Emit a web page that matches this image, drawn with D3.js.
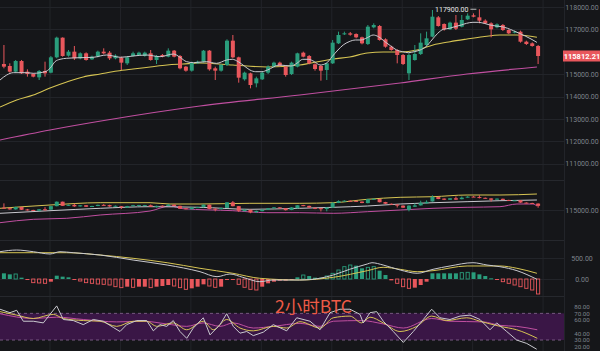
<!DOCTYPE html>
<html><head><meta charset="utf-8">
<script src="https://cdn.jsdelivr.net/npm/d3@7"></script>
<style>html,body{margin:0;padding:0;background:#151619;}svg{display:block}</style>
</head><body><svg id="c" width="600" height="351"></svg>
<script>
// ---------- DATA ----------
const open  = [115455,115366,115113,115589,115113,115009,114860,115143,115069,115753,116631,115828,116006,115708,115932,115664,115783,116006,115961,115708,115738,115485,115813,115857,115813,115932,115634,115857,115783,116051,115813,115336,115158,115485,115559,116051,115262,115158,115411,116497,115753,114771,115039,114592,114771,115069,115336,115515,115336,115009,115336,115961,115813,115440,115366,115188,115485,116378,116780,116824,116794,116646,116348,117092,117152,116557,116229,116080,115857,115039,115634,115902,116304,116676,117539,117241,117003,117301,117122,117449,117628,117539,117390,117271,117092,117196,116973,116854,116898,116452,116378,116259];
const high  = [116304,115485,115634,115634,115217,115039,115188,115559,115813,116676,116646,116080,116259,115976,115976,115828,116051,116155,116036,115887,115783,115813,116006,116006,116006,116080,115857,115902,116155,116080,115857,115366,115559,115604,116080,116080,115336,115455,116557,116750,115783,115113,115069,114890,115113,115396,115559,115559,115366,115559,115961,116006,115857,115485,115411,115515,116527,116899,116899,116884,116824,116676,117196,117271,117196,116601,116274,116110,115902,115932,116304,116824,116899,117866,117598,117271,117346,117643,117643,117717,117717,117900,117449,117316,117271,117241,117003,116944,116944,116497,116423,116304];
const low   = [115262,115069,115069,115009,114890,114860,114741,114890,115039,115708,115783,115783,115634,115664,115604,115634,115753,115887,115634,115664,115188,115411,115783,115813,115783,115604,115455,115753,115753,115753,115217,115113,115113,115455,115515,115158,114741,115113,115366,115708,114622,114711,114369,114414,114741,115009,115306,115336,114890,114964,115306,115753,115440,115158,114711,114741,115455,116348,116750,116720,116601,116333,116304,117049,116497,116184,116051,115485,115411,114741,115604,115857,116259,116646,117122,116944,116973,116973,117092,117420,117539,117271,117241,116646,117049,116929,116794,116824,116408,116304,116229,115455];
const close = [115336,115113,115589,115039,115009,114890,115143,115039,115753,116631,115813,116006,115708,115932,115634,115783,116006,115932,115708,115828,115515,115753,115932,115961,115961,115634,115813,115783,116051,115783,115262,115158,115515,115559,116051,115217,115158,115411,116497,115753,114845,115069,114518,114815,115069,115336,115515,115366,114964,115515,115932,115783,115485,115232,115158,115485,116408,116750,116824,116765,116646,116378,117122,117196,116527,116229,116080,115857,115455,115857,115902,116408,116601,117568,117152,117003,117301,117033,117420,117613,117568,117390,117271,117003,117226,116973,116824,116898,116452,116348,116259,115812.21];

// moving averages on main pane: [bar index, price]
const maFast = [[-0.67,114741],[0.47,114964],[1.6,115068],[3.9,115068],[5.0,115040],[7.0,115112],[7.85,115262],[8.7,115560],[9.55,115665],[10.7,115710],[12.96,115737],[15.2,115754],[17.5,115857],[18.6,115812],[19.8,115754],[22.0,115812],[24.3,115857],[26.6,115782],[28.9,115902],[30.0,115754],[31.1,115560],[32.3,115515],[34.5,115560],[36.2,115485],[37.95,115634],[38.9,115665],[39.9,115560],[40.95,115366],[41.9,115188],[42.9,115112],[43.96,115112],[44.9,115188],[46.9,115411],[48.9,115366],[49.9,115485],[50.9,115665],[51.85,115665],[52.9,115560],[53.85,115411],[54.9,115485],[55.9,115782],[56.9,116080],[57.8,116304],[58.8,116452],[59.9,116527],[60.8,116527],[61.9,116630],[62.9,116750],[63.8,116675],[64.9,116452],[65.9,116259],[66.9,116080],[67.9,116005],[68.9,115961],[69.9,116005],[70.9,116080],[71.9,116228],[72.9,116527],[73.9,116825],[74.85,117004],[75.9,117049],[76.8,117121],[77.9,117196],[78.8,117271],[79.9,117316],[80.8,117316],[81.8,117271],[82.8,117196],[83.8,117152],[84.8,117121],[85.8,117049],[86.8,116942],[87.8,116825],[88.8,116705],[89.8,116571],[90.8,116420]];
const maMid = [[-0.67,113536],[2.17,113848],[5.0,114071],[7.85,114384],[10.7,114652],[13.5,114875],[16.4,115009],[19.3,115143],[22.0,115232],[24.9,115321],[27.8,115411],[30.5,115455],[33.4,115500],[39.0,115411],[44.8,115321],[50.4,115411],[52.1,115487],[56.1,115679],[58.9,115768],[61.9,115946],[64.6,115991],[67.5,115991],[70.4,116080],[73.1,116304],[76.0,116451],[78.9,116571],[81.6,116674],[84.5,116750],[87.4,116750],[90.8,116647]];
const maSlow = [[-0.67,112063],[7.85,112509],[17.56,112955],[33.4,113580],[50.4,114071],[67.5,114607],[78.9,115009],[90.8,115321]];

// second pane bands
const band2Upper = [[-0.67,115333],[7.85,115980],[16.4,116431],[24.9,116431],[28.3,116176],[33.4,116176],[41.9,116313],[50.4,116313],[56.1,116431],[61.9,117097],[67.5,117489],[73.1,117607],[78.9,117940],[84.5,117940],[90.8,118136]];
const band2Mid = [[-0.67,114353],[7.85,114863],[16.4,115333],[24.9,115647],[33.4,115529],[41.9,115137],[50.4,115333],[56.1,115529],[61.9,115784],[67.5,116176],[73.1,116431],[78.9,116627],[84.5,116823],[90.8,116960]];
const band2Lower = [[-0.67,112511],[5.0,113177],[10.7,113373],[16.4,114020],[24.9,114804],[28.3,115784],[30.5,115255],[39.0,114863],[44.8,114471],[50.4,114471],[56.1,114353],[61.9,114667],[67.5,115000],[73.1,115333],[78.9,115529],[84.5,115647],[87.4,116176],[90.1,116176],[90.8,115784]];

// MACD
const macdHist = [135,111,119,32,-24,-87,-95,-103,-64,79,56,40,-16,-48,-87,-103,-119,-127,-143,-183,-206,-183,-198,-183,-183,-206,-183,-167,-143,-167,-206,-246,-222,-183,-127,-167,-198,-183,-24,-24,-127,-198,-246,-262,-183,-103,-64,-40,-40,-24,40,95,71,32,32,71,135,214,294,333,317,254,278,294,198,95,-32,-103,-183,-222,-206,-143,-64,135,135,135,135,135,151,159,159,111,71,16,-24,-64,-103,-143,-183,-222,-262,-357];
const macdDif = [[-0.67,650],[2.17,690],[5.0,650],[7.85,595],[9.55,650],[11.8,626],[16.4,571],[22.0,452],[27.8,333],[33.4,174],[36.3,55],[38.5,119],[40.7,40],[43.6,-64],[45.8,-24],[50.4,-24],[53.8,17],[56.1,95],[58.9,231],[61.9,357],[62.7,388],[64.6,333],[67.5,214],[70.4,136],[73.1,231],[76.0,310],[79.9,388],[82.3,333],[84.5,293],[87.4,198],[90.8,-7]];
const macdDea = [[-0.67,626],[5.0,626],[10.7,626],[16.4,571],[22.0,493],[27.8,388],[33.4,255],[39.0,136],[43.6,17],[50.4,-24],[56.1,40],[61.9,198],[64.6,279],[67.5,231],[70.4,174],[73.1,198],[78.9,310],[84.5,310],[87.4,255],[90.8,136]];

// RSI
const rsi6 = [[-0.67,76.2],[1.03,71.0],[2.17,74.6],[3.3,58.2],[5.0,58.2],[6.71,55.7],[7.85,68.5],[8.99,81.2],[10.11,60.8],[11.82,59.2],[13.52,53.1],[15.22,60.8],[16.93,58.2],[18.63,48.9],[19.77,42.8],[20.91,53.1],[22.62,59.2],[24.32,59.2],[25.45,43.8],[26.59,53.1],[27.73,50.5],[28.85,59.2],[29.99,42.8],[31.14,32.6],[32.26,48.0],[33.96,63.4],[35.11,37.7],[36.81,53.1],[37.95,69.5],[39.07,50.5],[40.22,40.3],[41.36,42.8],[42.48,36.6],[44.19,41.8],[45.89,53.1],[48.17,43.8],[49.88,63.4],[52.14,58.2],[53.85,45.4],[55.55,71.0],[57.25,76.2],[58.95,76.2],[60.66,68.5],[61.22,55.7],[62.36,71.0],[63.5,72.6],[64.63,58.2],[66.33,42.8],[68.04,26.4],[69.74,42.8],[71.44,60.8],[72.87,76.2],[74.29,63.4],[75.99,60.8],[77.7,65.9],[79.4,67.4],[81.1,60.8],[82.81,45.4],[83.95,55.7],[85.65,42.8],[87.35,30.0],[89.06,24.9],[90.76,16.2]];
const rsi12 = [[-0.67,72.6],[2.17,67.4],[5.0,62.3],[8.41,68.5],[10.11,62.3],[13.52,59.2],[16.37,58.2],[19.21,50.5],[22.04,58.2],[24.32,58.2],[26.03,50.5],[28.85,55.7],[31.14,45.4],[33.96,58.2],[35.67,45.4],[37.95,60.8],[40.22,48.0],[42.48,43.8],[45.89,50.5],[48.17,48.0],[50.44,57.5],[53.85,48.0],[56.11,63.4],[58.95,65.9],[60.95,55.7],[62.36,64.3],[64.63,55.7],[67.47,42.8],[70.32,50.5],[72.87,65.9],[75.43,59.2],[78.84,63.4],[81.1,58.2],[84.51,50.5],[87.35,45.4],[90.86,32.6]];
const rsi24 = [[-0.67,69.5],[5.0,62.3],[8.99,64.3],[13.52,60.8],[19.21,57.2],[23.74,58.2],[27.73,54.1],[31.14,50.5],[33.96,55.7],[36.81,50.5],[39.07,55.7],[42.48,48.0],[45.89,50.5],[50.44,55.0],[53.85,50.5],[56.11,58.2],[60.95,59.2],[64.63,54.1],[68.04,48.0],[72.87,62.3],[75.99,58.2],[81.67,57.2],[84.51,52.0],[87.35,50.5],[90.86,45.4]];

// axis ticks
const mainTicks = [118000,117000,115000,114000,113000,112000,111000];
const pane2Ticks = [115000];
const macdTicks = [500,0];
const rsiTicks = [80,70,60,40,30,20];
const rsiBand = [30,70];
const gridBars = [7.85,19.85,31.85,43.85,55.85,67.85,79.85,91.85];
const lastPrice = 115812.21;
const highLabel = {bar:81, price:117900};
const title = "2小时BTC";

// ---------- DRAW ----------
const W=600, H=351;
const C = {bg:"#151619", grid:"#222429", text:"#7d838c", up:"#2a9d7c", down:"#e9575c",
  white:"#c9c9cf", yellow:"#d6c453", magenta:"#c04fa0", band:"#3a1646"};
const svg = d3.select("#c");
svg.append("rect").attr("width",W).attr("height",H).attr("fill",C.bg);

const plotR = 564;
const x = d3.scaleLinear().domain([0,91]).range([3.93,538.1]);
const yMain = d3.scaleLinear().domain([111000,118000]).range([163.8,7]);
const y2 = d3.scaleLinear().domain([115000,116000]).range([210,204.9]);
const y3 = d3.scaleLinear().domain([0,500]).range([279,258]);
const y4 = d3.scaleLinear().domain([20,80]).range([346.7,306.7]);

const panes = [[0,180],[180,240],[240,296],[296,351]];
panes.forEach((p,k)=>{
  svg.append("clipPath").attr("id","cp"+k).append("rect").attr("x",0).attr("y",p[0]).attr("width",plotR).attr("height",p[1]-p[0]);
});

// grid
const g = svg.append("g");
gridBars.forEach(b=>g.append("line").attr("x1",x(b)).attr("x2",x(b)).attr("y1",0).attr("y2",H).attr("stroke",C.grid).attr("stroke-width",1));
g.append("line").attr("x1",plotR+0.5).attr("x2",plotR+0.5).attr("y1",0).attr("y2",H).attr("stroke",C.grid);
mainTicks.forEach(t=>g.append("line").attr("x1",0).attr("x2",plotR).attr("y1",Math.round(yMain(t))+0.5).attr("y2",Math.round(yMain(t))+0.5).attr("stroke",C.grid));
pane2Ticks.forEach(t=>g.append("line").attr("x1",0).attr("x2",plotR).attr("y1",Math.round(y2(t))+0.5).attr("y2",Math.round(y2(t))+0.5).attr("stroke",C.grid));
macdTicks.forEach(t=>g.append("line").attr("x1",0).attr("x2",plotR).attr("y1",Math.round(y3(t))+0.5).attr("y2",Math.round(y3(t))+0.5).attr("stroke",C.grid));
[180,240,296].forEach(yy=>g.append("line").attr("x1",0).attr("x2",plotR).attr("y1",yy+0.5).attr("y2",yy+0.5).attr("stroke","#26282d"));

const idx = d3.range(open.length);
function candles(sel, ys, bw){
  const cg = sel.append("g");
  idx.forEach(i=>{
    const up = close[i]>=open[i];
    const col = up?C.up:C.down;
    cg.append("line").attr("x1",x(i)).attr("x2",x(i)).attr("y1",ys(high[i])).attr("y2",ys(low[i])).attr("stroke",col).attr("stroke-width",1);
    const t = ys(Math.max(open[i],close[i])), b = ys(Math.min(open[i],close[i]));
    cg.append("rect").attr("x",x(i)-bw/2).attr("y",t).attr("width",bw).attr("height",Math.max(1,b-t)).attr("fill",col);
  });
}
const line = (ys)=>d3.line().x(d=>x(d[0])).y(d=>ys(d[1])).curve(d3.curveMonotoneX);
const linL = (ys)=>d3.line().x(d=>x(d[0])).y(d=>ys(d[1]));

// pane 1
const p1 = svg.append("g").attr("clip-path","url(#cp0)");
p1.append("path").attr("d",line(yMain)(maSlow)).attr("fill","none").attr("stroke",C.magenta).attr("stroke-width",1.2);
p1.append("path").attr("d",line(yMain)(maMid)).attr("fill","none").attr("stroke",C.yellow).attr("stroke-width",1.1);
candles(p1, yMain, 4);
p1.append("path").attr("d",line(yMain)(maFast)).attr("fill","none").attr("stroke",C.white).attr("stroke-width",1);

// high label
const hx = x(highLabel.bar), hy = yMain(highLabel.price);
svg.append("text").attr("x",hx-11).attr("y",hy+2.5).attr("text-anchor","end").attr("fill","#e6e6e6")
  .attr("font-family","Roboto, sans-serif").attr("font-size",7).text(d3.format(".2f")(highLabel.price));
svg.append("line").attr("x1",hx-9).attr("x2",hx-3).attr("y1",hy).attr("y2",hy).attr("stroke","#e6e6e6").attr("stroke-width",0.8);

// pane 2
const p2 = svg.append("g").attr("clip-path","url(#cp1)");
p2.append("path").attr("d",line(y2)(band2Lower)).attr("fill","none").attr("stroke",C.magenta).attr("stroke-width",1);
p2.append("path").attr("d",line(y2)(band2Mid)).attr("fill","none").attr("stroke",C.white).attr("stroke-width",1);
p2.append("path").attr("d",line(y2)(band2Upper)).attr("fill","none").attr("stroke",C.yellow).attr("stroke-width",1);
candles(p2, y2, 4);

// pane 3 MACD
const p3 = svg.append("g").attr("clip-path","url(#cp2)");
macdHist.forEach((v,i)=>{
  const prev = i>0?macdHist[i-1]:0;
  const hollow = Math.abs(v) > Math.abs(prev) && Math.sign(v)===Math.sign(prev);
  const col = v>=0?C.up:C.down;
  const t = y3(Math.max(0,v)), b = y3(Math.min(0,v));
  const r = p3.append("rect").attr("x",x(i)-2).attr("y",t).attr("width",4).attr("height",Math.max(1,b-t));
  if(hollow) r.attr("fill","none").attr("stroke",col).attr("stroke-width",0.9).attr("x",x(i)-1.6).attr("width",3.2);
  else r.attr("fill",col);
});
p3.append("path").attr("d",line(y3)(macdDea)).attr("fill","none").attr("stroke",C.yellow).attr("stroke-width",1);
p3.append("path").attr("d",line(y3)(macdDif)).attr("fill","none").attr("stroke",C.white).attr("stroke-width",1);

// pane 4 RSI
const p4 = svg.append("g").attr("clip-path","url(#cp3)");
p4.append("rect").attr("x",0).attr("width",plotR).attr("y",y4(rsiBand[1])).attr("height",y4(rsiBand[0])-y4(rsiBand[1])).attr("fill",C.band);
rsiBand.forEach(v=>p4.append("line").attr("x1",0).attr("x2",plotR).attr("y1",y4(v)).attr("y2",y4(v)).attr("stroke","#8a6a94").attr("stroke-dasharray","3,3").attr("stroke-width",0.8));
p4.append("path").attr("d",line(y4)(rsi24)).attr("fill","none").attr("stroke",C.magenta).attr("stroke-width",1);
p4.append("path").attr("d",line(y4)(rsi12)).attr("fill","none").attr("stroke",C.yellow).attr("stroke-width",1);
p4.append("path").attr("d",linL(y4)(rsi6)).attr("fill","none").attr("stroke",C.white).attr("stroke-width",1);

svg.append("text").attr("x",275).attr("y",313).attr("fill","#ee5b47").attr("font-size",17.5)
  .attr("font-family","'Noto Sans CJK SC', sans-serif").text(title);

// axis labels
const fmt = d3.format(".2f");
const ax = svg.append("g").attr("font-family","Roboto, sans-serif").attr("font-size",7).attr("fill",C.text).attr("text-anchor","middle");
const lx = 582;
mainTicks.forEach(t=>ax.append("text").attr("x",lx).attr("y",yMain(t)+2.5).text(fmt(t)));
pane2Ticks.forEach(t=>ax.append("text").attr("x",lx).attr("y",y2(t)+2.5).text(fmt(t)));
macdTicks.forEach(t=>ax.append("text").attr("x",lx).attr("y",y3(t)+2.5).text(fmt(t)));
rsiTicks.forEach(t=>ax.append("text").attr("x",lx).attr("y",y4(t)+2.2).attr("font-size",6.2).text(fmt(t)));

// last price tag
const ty = yMain(lastPrice);
svg.append("rect").attr("x",plotR-1).attr("y",ty-5.5).attr("width",W-plotR+1).attr("height",11).attr("fill","#e9575c");
svg.append("text").attr("x",lx).attr("y",ty+2.6).attr("text-anchor","middle").attr("fill","#fff")
  .attr("font-family","Roboto, sans-serif").attr("font-size",7.5).attr("font-weight","bold").text(fmt(lastPrice));
</script></body></html>
